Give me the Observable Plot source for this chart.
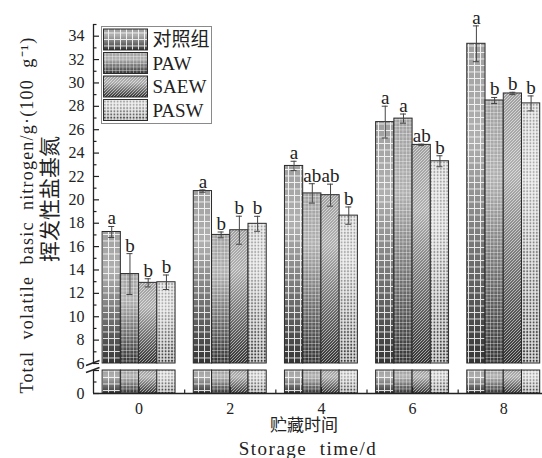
<!DOCTYPE html>
<html><head><meta charset="utf-8">
<script src="https://cdn.jsdelivr.net/npm/d3@7"></script>
<script src="https://cdn.jsdelivr.net/npm/@observablehq/plot@0.6"></script>
<style>body{margin:0;background:#fff}</style>
</head><body><div id="chart"></div>
<script>
// ---- data ----
const days = [0, 2, 4, 6, 8];
const seriesNames = ["对照组", "PAW", "SAEW", "PASW"];
const controlValues = [17.25, 20.75, 22.9, 26.65, 33.35];
const pawValues     = [13.65, 17.0, 20.55, 26.95, 28.5];
const saewValues    = [12.9, 17.4, 20.4, 24.7, 29.1];
const paswValues    = [12.95, 17.95, 18.65, 23.3, 28.25];
const controlErrors = [0.47, 0.1, 0.4, 1.36, 1.53];
const pawErrors     = [1.75, 0.25, 0.83, 0.39, 0.26];
const saewErrors    = [0.35, 1.2, 0.94, 0.06, 0.1];
const paswErrors    = [0.62, 0.64, 0.74, 0.47, 0.64];
const controlLetters = ["a", "a", "a", "a", "a"];
const pawLetters     = ["b", "b", "ab", "a", "b"];
const saewLetters    = ["b", "b", "ab", "ab", "b"];
const paswLetters    = ["b", "b", "b", "b", "b"];
const yTickLabels = [0, 6, 8, 10, 12, 14, 16, 18, 20, 22, 24, 26, 28, 30, 32, 34];
const yMajorTicks = [0, 2, 6, 8, 10, 12, 14, 16, 18, 20, 22, 24, 26, 28, 30, 32, 34];
const yMinorTicks = [1, 7, 9, 11, 13, 15, 17, 19, 21, 23, 25, 27, 29, 31, 33, 35];
const xTickLabels = [0, 2, 4, 6, 8];
const xMinorTicks = [1, 3, 5, 7];
const yTitleCn = "挥发性盐基氮";
const yTitleEn = "Total\u00a0 volatile\u00a0 basic\u00a0 nitrogen/g·(100\u00a0 g⁻¹)";
const xTitleCn = "贮藏时间";
const xTitleEn = "Storage\u00a0 time/d";

// ---- layout constants ----
const BREAK_LOW = 2, BREAK_HIGH = 6, Y_TOP = 35;
const X_DOMAIN = [-1, 8.85];
const GROUP_HALF = 0.8, BAR_W = 0.4;

const seriesValues = [controlValues, pawValues, saewValues, paswValues];
const seriesErrors = [controlErrors, pawErrors, saewErrors, paswErrors];
const seriesLetters = [controlLetters, pawLetters, saewLetters, paswLetters];
const rows = [];
seriesNames.forEach((name, s) => days.forEach((day, j) => rows.push({
  name, s, day, value: seriesValues[s][j], err: seriesErrors[s][j], sig: seriesLetters[s][j]
})));
const bx1 = d => d.day - GROUP_HALF + BAR_W * d.s;
const bx2 = d => bx1(d) + BAR_W;
const bxc = d => bx1(d) + BAR_W / 2;

const SVGNS = "http://www.w3.org/2000/svg";
const el = (tag, attrs = {}) => { const e = document.createElementNS(SVGNS, tag); for (const k in attrs) e.setAttribute(k, attrs[k]); return e; };

function legendMark(index, scales, values, dims) {
  const g = el("g", {"font-size": 19, "text-anchor": "start"});
  const bx = dims.marginLeft + 8.5, by = dims.marginTop + 2.5;
  g.append(el("rect", {x: bx, y: by, width: 110, height: 97, fill: "white", stroke: "#8a8a8a"}));
  seriesNames.forEach((name, s) => {
    const py = by + 2.5 + s * 23.5;
    g.append(el("rect", {x: bx + 2, y: py, width: 44, height: 21, fill: "url(#grad)"}));
    g.append(el("rect", {x: bx + 2, y: py, width: 44, height: 21, fill: `url(#pat${s})`, stroke: "#2b2b2b"}));
    const t = el("text", {x: bx + 51, y: py + 10.5, dy: "0.35em", fill: "#222"});
    t.textContent = name;
    g.append(t);
  });
  return g;
}

function breakMark(index, scales, values, dims) {
  const g = el("g", {stroke: "#222", "stroke-width": 1.4});
  const x0 = scales.x(X_DOMAIN[0]);
  [BREAK_HIGH, BREAK_LOW].forEach(v => {
    const y = scales.y(v);
    g.append(el("line", {x1: x0 - 7, y1: y + 2.5, x2: x0 + 6.5, y2: y - 2.5}));
  });
  return g;
}

const barMarks = [];
seriesNames.forEach((name, s) => {
  const data = rows.filter(d => d.s === s);
  for (const [lo, hi] of [[BREAK_HIGH, "value"], [0, BREAK_LOW]]) {
    barMarks.push(Plot.rect(data, {x1: bx1, x2: bx2, y1: lo, y2: hi, fill: "url(#grad)"}));
    barMarks.push(Plot.rect(data, {x1: bx1, x2: bx2, y1: lo, y2: hi, fill: `url(#pat${s})`, stroke: "#2b2b2b", strokeWidth: 1}));
  }
});

const plot = Plot.plot({
  width: 542, height: 458,
  marginLeft: 93, marginRight: 0, marginTop: 24, marginBottom: 65,
  style: {fontFamily: "'Liberation Serif', 'Noto Sans CJK SC', serif", fontSize: "16px", color: "#222", background: "white", overflow: "visible"},
  x: {type: "linear", domain: X_DOMAIN, label: null},
  y: {type: "linear", domain: [0, BREAK_LOW, BREAK_HIGH, Y_TOP], range: [393, 370, 363, 24], label: null},
  marks: [
    ...barMarks,
    // error bars
    Plot.ruleX(rows, {x: bxc, y1: d => d.value - d.err, y2: d => d.value + d.err, stroke: "#444"}),
    Plot.ruleY(rows, {y: d => d.value + d.err, x1: bxc, x2: bxc, insetLeft: -3, insetRight: -3, stroke: "#444"}),
    Plot.ruleY(rows, {y: d => d.value - d.err, x1: bxc, x2: bxc, insetLeft: -3, insetRight: -3, stroke: "#444"}),
    // significance letters
    Plot.text(rows, {x: bxc, y: d => d.value + d.err, text: "sig", lineAnchor: "bottom", dy: -2, fontSize: 19, fill: "#222"}),
    // axes lines
    Plot.ruleX([X_DOMAIN[0]], {y1: BREAK_HIGH, y2: Y_TOP, stroke: "#222", strokeWidth: 1.3}),
    Plot.ruleX([X_DOMAIN[0]], {y1: 0, y2: BREAK_LOW, stroke: "#222", strokeWidth: 1.3}),
    Plot.ruleY([0], {stroke: "#222", strokeWidth: 1.3}),
    // inward ticks
    Plot.ruleY(yMajorTicks, {y: d => d, x1: X_DOMAIN[0], x2: X_DOMAIN[0], insetRight: -6, stroke: "#222", strokeWidth: 1.2}),
    Plot.ruleY(yMinorTicks, {y: d => d, x1: X_DOMAIN[0], x2: X_DOMAIN[0], insetRight: -3.5, stroke: "#222", strokeWidth: 1.2}),
    Plot.ruleX(xTickLabels, {x: d => d, y1: 0, y2: 0, insetTop: -6, stroke: "#222", strokeWidth: 1.2}),
    Plot.ruleX(xMinorTicks, {x: d => d, y1: 0, y2: 0, insetTop: -3.5, stroke: "#222", strokeWidth: 1.2}),
    breakMark,
    // tick labels
    Plot.axisY({ticks: yTickLabels, tickSize: 0, tickPadding: 9, fontSize: 16, label: null}),
    Plot.axisX({ticks: xTickLabels, tickSize: 0, tickPadding: 9, fontSize: 16, label: null}),
    // titles
    Plot.text([yTitleEn], {text: d => d, frameAnchor: "left", textAnchor: "middle", lineAnchor: "middle", rotate: -90, dx: -66, dy: 6, fontSize: 18, fill: "#222"}),
    Plot.text([yTitleCn], {text: d => d, frameAnchor: "left", textAnchor: "middle", lineAnchor: "middle", rotate: -90, dx: -43, dy: -10, fontSize: 21, fill: "#222"}),
    Plot.text([xTitleCn], {text: d => d, frameAnchor: "bottom", textAnchor: "middle", lineAnchor: "middle", dx: -14, dy: 32, fontSize: 17, fill: "#222"}),
    Plot.text([xTitleEn], {text: d => d, frameAnchor: "bottom", textAnchor: "middle", lineAnchor: "middle", dx: -10, dy: 55, fontSize: 19, fill: "#222"}),
    legendMark
  ]
});

plot.insertAdjacentHTML("afterbegin", `<defs>
<linearGradient id="grad" x1="0" y1="0" x2="0" y2="1">
  <stop offset="0" stop-color="#a0a0a0"/>
  <stop offset="0.3" stop-color="#b0b0b0"/>
  <stop offset="1" stop-color="#363636"/>
</linearGradient>
<pattern id="pat0" patternUnits="userSpaceOnUse" width="6" height="6.5">
  <path d="M0 0.5H6M0.5 0V6.5" stroke="#fff" stroke-opacity="0.85" stroke-width="1" fill="none"/>
</pattern>
<pattern id="pat1" patternUnits="userSpaceOnUse" width="3.5" height="3.5">
  <path d="M0 0.4H3.5M0.4 0V3.5" stroke="#fff" stroke-opacity="0.45" stroke-width="0.8" fill="none"/>
</pattern>
<pattern id="pat2" patternUnits="userSpaceOnUse" width="3" height="3">
  <path d="M-0.75 0.75L0.75 -0.75M0 3L3 0M2.25 3.75L3.75 2.25" stroke="#fff" stroke-opacity="0.6" stroke-width="0.9" fill="none"/>
</pattern>
<pattern id="pat3" patternUnits="userSpaceOnUse" width="3.2" height="3.2">
  <path d="M0 0.8H3.2M0.8 0V3.2" stroke="#fff" stroke-opacity="0.85" stroke-width="1.35" fill="none"/>
</pattern>
</defs>`);
// typographic letter spacing of the axis titles
plot.querySelectorAll("text").forEach(t => {
  if (t.textContent === yTitleEn) t.style.letterSpacing = "1.2px";
  if (t.textContent === xTitleEn) t.style.letterSpacing = "1.5px";
});
document.getElementById("chart").append(plot);
</script>
</body></html>
